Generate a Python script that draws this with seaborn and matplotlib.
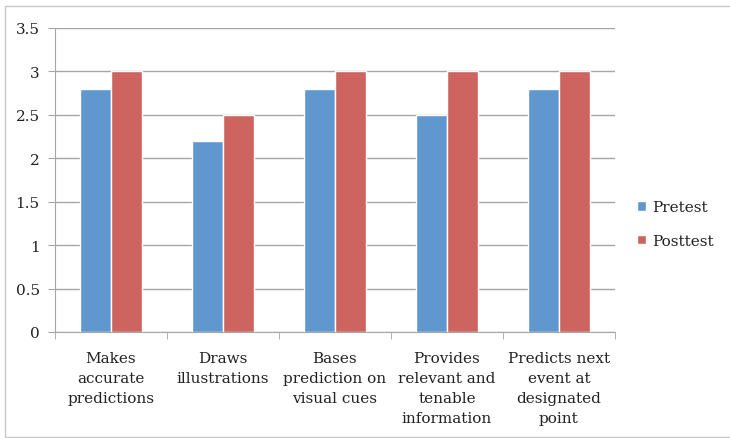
import pandas as pd
import seaborn as sns
import matplotlib.pyplot as plt
from matplotlib.patches import Rectangle

categories = ["Makes\naccurate\npredictions", "Draws\nillustrations",
              "Bases\nprediction on\nvisual cues", "Provides\nrelevant and\ntenable\ninformation",
              "Predicts next\nevent at\ndesignated\npoint"]
pretest = [2.8, 2.2, 2.8, 2.5, 2.8]
posttest = [3.0, 2.5, 3.0, 3.0, 3.0]

df = pd.DataFrame({
    "category": categories * 2,
    "score": pretest + posttest,
    "test": ["Pretest"] * 5 + ["Posttest"] * 5,
})

sns.set_style("white")
plt.rcParams['font.family'] = ['DejaVu Serif']

fig = plt.figure(figsize=(7.3, 4.39), dpi=100)
ax = fig.add_axes([0.0753, 0.2415, 0.767, 0.6925])

sns.barplot(data=df, x="category", y="score", hue="test", ax=ax,
            palette={"Pretest": "#6097CE", "Posttest": "#CD645F"},
            width=0.56, edgecolor="white", linewidth=1, saturation=1)

ax.set_ylim(0, 3.5)
ax.set_yticks([0, 0.5, 1, 1.5, 2, 2.5, 3, 3.5])
ax.set_yticklabels(["0", "0.5", "1", "1.5", "2", "2.5", "3", "3.5"])
ax.set_xlim(-0.5, 4.5)
ax.yaxis.grid(True, color="#a6a6a6", linewidth=1)
ax.set_axisbelow(True)
ax.set_xlabel("")
ax.set_ylabel("")
for s in ["top", "right"]:
    ax.spines[s].set_visible(False)
for s in ["left", "bottom"]:
    ax.spines[s].set_color("#a6a6a6")
ax.tick_params(axis="y", left=True, length=5, color="#a6a6a6", labelsize=11,
               labelcolor="#222222", pad=6)
ax.tick_params(axis="x", bottom=False, labelsize=11, labelcolor="#222222", pad=10)
# category boundary ticks
ax.set_xticks([-0.5, 0.5, 1.5, 2.5, 3.5, 4.5], minor=True)
ax.tick_params(axis="x", which="minor", bottom=True, length=5, color="#a6a6a6")
for lab in ax.get_xticklabels():
    lab.set_linespacing(1.55)

ax.legend(loc="center left", bbox_to_anchor=(1.015, 0.355), frameon=False,
          fontsize=11, handlelength=0.6, handleheight=0.6, labelspacing=1.3,
          handletextpad=0.4, labelcolor="#222222")

fig.patches.append(Rectangle((5 / 730, 0.003), 0.994, 0.982, transform=fig.transFigure,
                             fill=False, edgecolor="#c8c8c8", linewidth=1))

fig.savefig("out.png", dpi=100)
